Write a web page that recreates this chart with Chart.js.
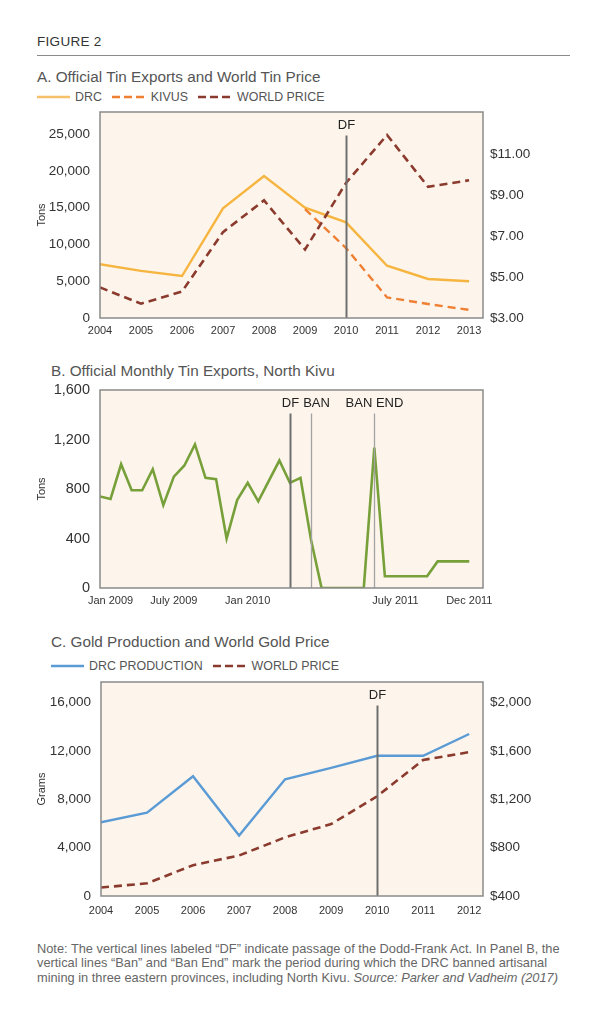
<!DOCTYPE html>
<html>
<head>
<meta charset="utf-8">
<script src="https://cdn.jsdelivr.net/npm/chart.js@4.4.0/dist/chart.umd.min.js"></script>
<style>
  body { margin: 0; background: #fff; font-family: "Liberation Sans", Arial, sans-serif; }
  #page { position: relative; width: 608px; height: 1024px; overflow: hidden; }
  .abs { position: absolute; white-space: nowrap; }
  .fig { left: 37px; top: 34px; font-size: 13.5px; line-height: 16px; color: #333; letter-spacing: 0.3px; }
  .rule { left: 37px; top: 55px; width: 533px; border-top: 1px solid #8a8a8a; }
  .title { font-size: 15.3px; line-height: 18px; color: #555; }
  .legend { font-size: 12.4px; line-height: 14px; color: #555; display: flex; align-items: center; }
  .legend svg { margin-right: 5px; }
  .legend span { margin-right: 10px; }
  .note { left: 37px; top: 942px; font-size: 12.8px; line-height: 14.3px; color: #666; }
  canvas { position: absolute; left: 0; }
</style>
</head>
<body>
<div id="page">
  <div class="abs fig">FIGURE 2</div>
  <div class="abs rule"></div>

  <div class="abs title" style="left:37px;top:68px">A. Official Tin Exports and World Tin Price</div>
  <div class="abs legend" style="left:37px;top:90px">
    <svg width="33" height="4"><line x1="0" y1="2" x2="33" y2="2" stroke="#f7c06a" stroke-width="2.5"/></svg><span>DRC</span>
    <svg width="34" height="4"><line x1="0" y1="2" x2="34" y2="2" stroke="#ef7f33" stroke-width="2.5" stroke-dasharray="8,4"/></svg><span>KIVUS</span>
    <svg width="34" height="4"><line x1="0" y1="2" x2="34" y2="2" stroke="#8b3a2e" stroke-width="2.5" stroke-dasharray="8,4"/></svg><span>WORLD PRICE</span>
  </div>
  <canvas id="tinChart" style="top:105px;width:608px;height:237px" width="608" height="237"></canvas>

  <div class="abs title" style="left:51px;top:362px">B. Official Monthly Tin Exports, North Kivu</div>
  <canvas id="kivuChart" style="top:380px;width:608px;height:232px" width="608" height="232"></canvas>

  <div class="abs title" style="left:51px;top:633px">C. Gold Production and World Gold Price</div>
  <div class="abs legend" style="left:51px;top:659px">
    <svg width="33" height="4"><line x1="0" y1="2" x2="33" y2="2" stroke="#5b9bd5" stroke-width="2.5"/></svg><span>DRC PRODUCTION</span>
    <svg width="34" height="4"><line x1="0" y1="2" x2="34" y2="2" stroke="#8b3a2e" stroke-width="2.5" stroke-dasharray="8,4"/></svg><span>WORLD PRICE</span>
  </div>
  <canvas id="goldChart" style="top:675px;width:608px;height:245px" width="608" height="245"></canvas>

  <div class="abs note">Note: The vertical lines labeled “DF” indicate passage of the Dodd-Frank Act. In Panel B, the<br>vertical lines “Ban” and “Ban End” mark the period during which the DRC banned artisanal<br>mining in three eastern provinces, including North Kivu. <i>Source: Parker and Vadheim (2017)</i></div>
</div>

<script>
// Panel A: yearly tin exports (tons) and tin price ($/lb)
const tinYears = [2004, 2005, 2006, 2007, 2008, 2009, 2010, 2011, 2012, 2013];
const drcTin = [7300, 6400, 5700, 14900, 19300, 15000, 13000, 7100, 5300, 5000];
const kivusTin = [null, null, null, null, null, 14800, 9500, 2800, 1900, 1100];
const tinPrice = [4.49, 3.70, 4.29, 7.19, 8.74, 6.34, 9.59, 11.93, 9.40, 9.72];
const tinTonTicks = [0, 5000, 10000, 15000, 20000, 25000];
const tinPriceTicks = [3, 5, 7, 9, 11];

// Panel B: monthly tin exports, North Kivu, Jan 2009 - Dec 2011
const kivuMonths = [
  "Jan 2009", "Feb 2009", "Mar 2009", "Apr 2009", "May 2009", "Jun 2009",
  "Jul 2009", "Aug 2009", "Sep 2009", "Oct 2009", "Nov 2009", "Dec 2009",
  "Jan 2010", "Feb 2010", "Mar 2010", "Apr 2010", "May 2010", "Jun 2010",
  "Jul 2010", "Aug 2010", "Sep 2010", "Oct 2010", "Nov 2010", "Dec 2010",
  "Jan 2011", "Feb 2011", "Mar 2011", "Apr 2011", "May 2011", "Jun 2011",
  "Jul 2011", "Aug 2011", "Sep 2011", "Oct 2011", "Nov 2011", "Dec 2011"
];
const kivuTons = [740, 720, 1000, 790, 790, 960, 670, 900, 990, 1160, 890, 880,
  400, 710, 850, 700, 865, 1030, 850, 890, 390, 0, 0, 0,
  0, 0, 1135, 95, 95, 95, 95, 95, 215, 215, 215, 215];
const kivuTonTicks = [0, 400, 800, 1200, 1600];
// tick labels as placed on the original axis (month index)
const kivuTickPos = [1, 7, 14, 28, 35];
const kivuTickText = ["Jan 2009", "July 2009", "Jan 2010", "July 2011", "Dec 2011"];

// Panel C: gold production (grams) and gold price ($/oz)
const goldYears = [2004, 2005, 2006, 2007, 2008, 2009, 2010, 2011, 2012];
const drcGold = [6100, 6900, 9900, 5000, 9650, 10600, 11600, 11600, 13400];
const goldPrice = [470, 505, 655, 735, 885, 995, 1225, 1525, 1590];
const goldGramTicks = [0, 4000, 8000, 12000, 16000];
const goldPriceTicks = [400, 800, 1200, 1600, 2000];

const FONT = '"Liberation Sans", Arial, sans-serif';
const NARROW = '"Liberation Sans Narrow", "Liberation Sans", Arial, sans-serif';
const TICK = "#333";

// cream plot background, grey frame, and the vertical event lines
const panelFrame = {
  id: "panelFrame",
  beforeDraw(chart) {
    const { ctx, chartArea: a } = chart;
    ctx.save();
    ctx.fillStyle = "#fdf5eb";
    ctx.fillRect(a.left, a.top, a.right - a.left, a.bottom - a.top);
    ctx.restore();
  },
  afterDatasetsDraw(chart, args, opts) {
    const { ctx, chartArea: a } = chart;
    const xs = chart.scales.x;
    ctx.save();
    (opts.markers || []).forEach(m => {
      const px = Math.round(xs.getPixelForValue(m.value)) + 0.5;
      ctx.strokeStyle = m.color;
      ctx.lineWidth = m.width;
      ctx.beginPath();
      ctx.moveTo(px, a.top + 23.5);
      ctx.lineTo(px, a.bottom);
      ctx.stroke();
      ctx.fillStyle = "#222";
      ctx.font = "13px " + FONT;
      ctx.textAlign = "center";
      ctx.textBaseline = "middle";
      ctx.fillText(m.text, px + (m.dx || 0), a.top + 13);
    });
    ctx.strokeStyle = "#8a8a8a";
    ctx.lineWidth = 1.5;
    ctx.strokeRect(a.left, a.top, a.right - a.left, a.bottom - a.top);
    ctx.restore();
  }
};

const noPad = s => { s.paddingTop = 0; s.paddingBottom = 0; s.paddingLeft = 0; s.paddingRight = 0; };

const leftAxis = (min, max, tickList, title, width, size) => ({
  type: "linear", position: "left", min: min, max: max,
  grid: { display: false, drawTicks: false }, border: { display: false },
  afterBuildTicks: s => { s.ticks = tickList.map(v => ({ value: v })); },
  ticks: { padding: 10, color: TICK, font: { family: FONT, size: size }, callback: v => v.toLocaleString("en-US") },
  title: { display: true, text: title, color: TICK, font: { family: FONT, size: 11 }, padding: { top: 35, bottom: 0 } },
  afterFit: s => { s.width = width; noPad(s); }
});

const rightAxis = (min, max, tickList, cb) => ({
  type: "linear", position: "right", min: min, max: max,
  grid: { display: false, drawTicks: false }, border: { display: false },
  afterBuildTicks: s => { s.ticks = tickList.map(v => ({ value: v })); },
  ticks: { padding: 7, color: TICK, font: { family: FONT, size: 13.5 }, callback: cb },
  afterFit: s => { s.width = 125; noPad(s); }
});

const categoryTicks = (min, max, tickList, labelOf, pad) => ({
  type: "linear", min: min, max: max,
  grid: { display: false, drawTicks: false }, border: { display: false },
  afterBuildTicks: s => { s.ticks = tickList.map(v => ({ value: v })); },
  ticks: { padding: pad, color: TICK, font: { family: NARROW, size: 11 }, autoSkip: false, maxRotation: 0, callback: labelOf },
  afterFit: s => { s.height = 24; noPad(s); }
});

const pts = (xs, ys) => xs.map((x, i) => ({ x: x, y: ys[i] })).filter(p => p.y !== null);

const baseOpts = (padTop, padRight) => ({
  responsive: false,
  animation: false,
  layout: { padding: { top: padTop, right: padRight, left: 0, bottom: 0 } },
  elements: { point: { radius: 0 }, line: { tension: 0, borderCapStyle: "butt", borderJoinStyle: "miter" } },
  plugins: { legend: { display: false }, tooltip: { enabled: false } }
});

// Panel A
const optsA = baseOpts(7, 0);
optsA.scales = {
  x: categoryTicks(2004, 2013.34, tinYears, v => String(v), 6),
  y: leftAxis(0, 28000, tinTonTicks, "Tons", 100, 13.5),
  y1: rightAxis(3, 13.05, tinPriceTicks, v => "$" + v.toFixed(2))
};
optsA.plugins.panelFrame = { markers: [{ value: 2010, text: "DF", width: 2, color: "#6e6e6e" }] };

new Chart(document.getElementById("tinChart"), {
  type: "line",
  plugins: [panelFrame],
  data: {
    datasets: [
      { label: "WORLD PRICE", data: pts(tinYears, tinPrice), yAxisID: "y1", borderColor: "#8b3a2e", borderWidth: 2.6, borderDash: [8, 5] },
      { label: "KIVUS", data: pts(tinYears, kivusTin), yAxisID: "y", borderColor: "#ef7f33", borderWidth: 2.4, borderDash: [8, 5] },
      { label: "DRC", data: pts(tinYears, drcTin), yAxisID: "y", borderColor: "#f6b540", borderWidth: 2.4 }
    ]
  },
  options: optsA
});

// Panel B
const optsB = baseOpts(10, 125);
optsB.scales = {
  x: categoryTicks(0, 36.3, kivuTickPos, v => kivuTickText[kivuTickPos.indexOf(v)], 6),
  y: leftAxis(0, 1600, kivuTonTicks, "Tons", 100, 14.5)
};
optsB.plugins.panelFrame = { markers: [
  { value: kivuMonths.indexOf("Jul 2010"), text: "DF", width: 2, color: "#6e6e6e" },
  { value: kivuMonths.indexOf("Sep 2010"), text: "BAN", width: 1.3, color: "#a3a3a3", dx: 5 },
  { value: kivuMonths.indexOf("Mar 2011"), text: "BAN END", width: 1.3, color: "#a3a3a3" }
] };

new Chart(document.getElementById("kivuChart"), {
  type: "line",
  plugins: [panelFrame],
  data: {
    datasets: [
      { label: "North Kivu", data: kivuTons.map((v, i) => ({ x: i, y: v })), borderColor: "#77a03a", borderWidth: 2.6 }
    ]
  },
  options: optsB
});

// Panel C
const optsC = baseOpts(7, 0);
optsC.scales = {
  x: categoryTicks(2004, 2012.3, goldYears, v => String(v), 8),
  y: leftAxis(0, 17700, goldGramTicks, "Grams", 101, 13.5),
  y1: rightAxis(400, 2170, goldPriceTicks, v => "$" + v.toLocaleString("en-US"))
};
optsC.plugins.panelFrame = { markers: [{ value: 2010, text: "DF", width: 2, color: "#6e6e6e" }] };

new Chart(document.getElementById("goldChart"), {
  type: "line",
  plugins: [panelFrame],
  data: {
    datasets: [
      { label: "WORLD PRICE", data: pts(goldYears, goldPrice), yAxisID: "y1", borderColor: "#8b3a2e", borderWidth: 2.6, borderDash: [8, 5] },
      { label: "DRC PRODUCTION", data: pts(goldYears, drcGold), yAxisID: "y", borderColor: "#5b9bd5", borderWidth: 2.4 }
    ]
  },
  options: optsC
});
</script>
</body>
</html>
